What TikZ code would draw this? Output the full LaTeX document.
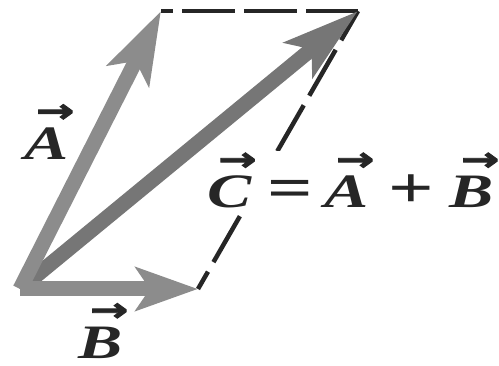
\documentclass[tikz,border=0pt]{standalone}
\usepackage{fontspec}
\setmainfont{Liberation Serif}
\newfontfamily\arrowfont{DejaVu Sans Bold}[FakeBold=2.5]
\usetikzlibrary{arrows.meta}
\definecolor{vecgray}{RGB}{140,140,140}
\definecolor{sumgray}{RGB}{118,118,118}
\definecolor{inkdark}{RGB}{38,38,38}
\newcommand\vb[1]{\leavevmode\rlap{\hspace{0.17em}\raisebox{0.78em}{\fontsize{33}{33}\arrowfont →}}\textbf{\textit{#1}}}
\newcommand\bigop[1]{{\fontsize{58}{58}\selectfont\bfseries #1}}
\tikzset{
  vecarrow/.style={line width=15pt, draw=vecgray, -{Stealth[length=72pt,width=46pt,inset=16pt]}},
  sumarrow/.style={line width=15pt, draw=sumgray, -{Stealth[length=76pt,width=44pt,inset=16pt]}},
  helper/.style={line width=4.5pt, draw=inkdark},
  lbl/.style={text=inkdark, font=\fontsize{48}{48}\selectfont, xscale=1.38, inner sep=0pt}
}
\begin{document}
\begin{tikzpicture}[x=1pt,y=-1pt]
\useasboundingbox (0,0) rectangle (499,366);
\coordinate (O) at (20,289);
\coordinate (Atip) at (161,11);
\coordinate (Btip) at (198,289);
\coordinate (Ctip) at (358,11);
\draw[helper, dash pattern=on 53pt off 9pt, dash phase=41pt] (Atip) -- (Ctip);
\draw[helper, dash pattern=on 53pt off 11pt, dash phase=33pt] (Btip) -- (Ctip);
\node[lbl, fill=white, inner xsep=2pt, inner ysep=2pt, anchor=base west] (sum) at (204,208) {\vb{C}\hspace{0.24em}\bigop{=}\hspace{0.175em}\vb{A}\hspace{0.29em}\bigop{+}\hspace{0.24em}\vb{B}};
\draw[sumarrow] (O) -- (Ctip);
\draw[vecarrow] (O) -- (Atip);
\draw[vecarrow, -{Stealth[length=62pt,width=43pt,inset=14pt]}] (O) -- (Btip);
\node[lbl] (la) at (47,132) {\vb{A}};
\node[lbl] (lb) at (101,331) {\vb{B}};
\end{tikzpicture}
\end{document}
